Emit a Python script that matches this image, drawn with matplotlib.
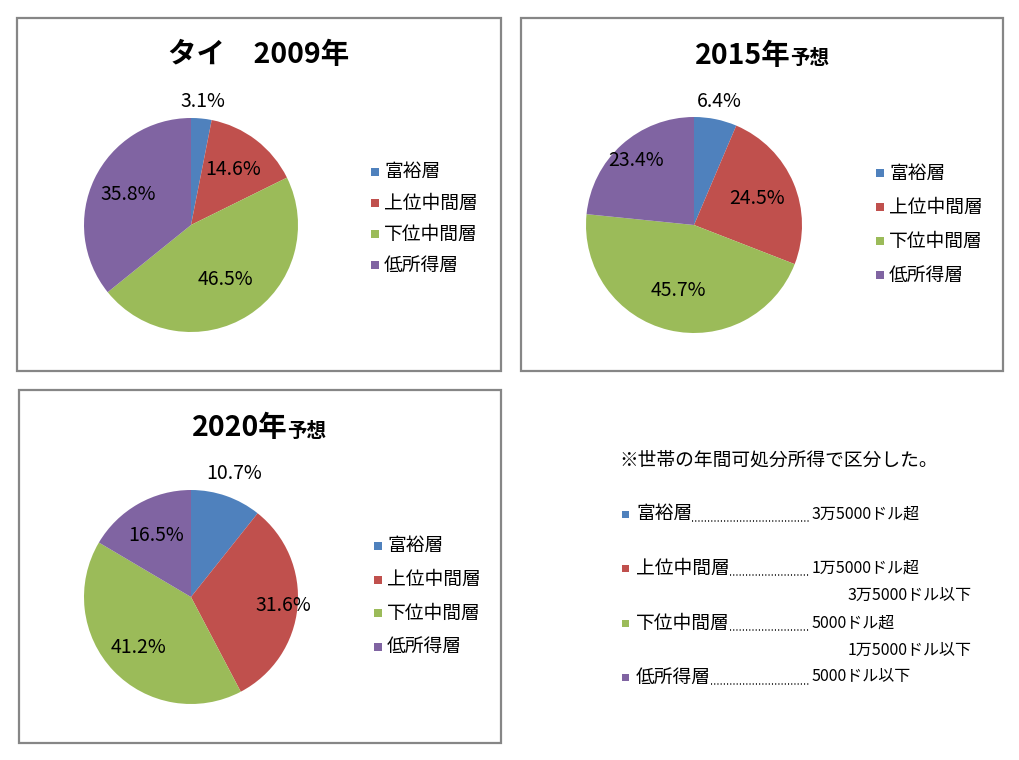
import matplotlib
matplotlib.use("Agg")
import matplotlib.pyplot as plt
import matplotlib.patches as mpatches
import numpy as np

plt.rcParams['font.family'] = ['Noto Sans CJK JP', 'DejaVu Sans']

# data
categories = ["富裕層", "上位中間層", "下位中間層", "低所得層"]
titles = ["タイ　2009年", "2015年", "2020年"]
title_suffix = ["", "予想", "予想"]
share_2009 = [3.1, 14.6, 46.5, 35.8]
share_2015 = [6.4, 24.5, 45.7, 23.4]
share_2020 = [10.7, 31.6, 41.2, 16.5]
note = "※世帯の年間可処分所得で区分した。"
thresholds = [["3万5000ドル超"],
              ["1万5000ドル超", "3万5000ドル以下"],
              ["5000ドル超", "1万5000ドル以下"],
              ["5000ドル以下"]]

colors = ["#4F81BD", "#C0504D", "#9BBB59", "#8064A2"]

W, H = 1020, 760
fig = plt.figure(figsize=(W / 100, H / 100), dpi=100)
renderer = fig.canvas.get_renderer()


def fx(x):
    return x / W


def fy(y):
    return 1 - y / H


# chart boxes (left, top, right, bottom in px)
boxes = [(17, 18, 501, 371), (521, 18, 1003, 371), (19, 390, 501, 743)]
for l, t, r, b in boxes:
    fig.patches.append(mpatches.Rectangle((fx(l), fy(b)), fx(r - l), (b - t) / H,
                                          transform=fig.transFigure, fill=False,
                                          edgecolor="#868686", linewidth=1.6))

charts = [
    dict(vals=share_2009, c=(191, 225), r=107, dist=[1.16, 0.65, 0.6, 0.65],
         title=(259, 55), leg=(375, 172, 31)),
    dict(vals=share_2015, c=(694, 225), r=108, dist=[1.17, 0.63, 0.62, 0.8],
         title=(762, 56), leg=(880, 173, 34)),
    dict(vals=share_2020, c=(191, 597), r=107, dist=[1.22, 0.87, 0.68, 0.66],
         title=(259, 428), leg=(378, 546, 33.5)),
]

for i, ch in enumerate(charts):
    cx, cy = ch["c"]
    r = ch["r"]
    ax = fig.add_axes([fx(cx - r), fy(cy + r), fx(2 * r), 2 * r / H])
    wedges, _ = ax.pie(ch["vals"], colors=colors, startangle=90, counterclock=False,
                       radius=1)
    ax.set_xlim(-1, 1)
    ax.set_ylim(-1, 1)
    ax.set_aspect("equal")
    ax.axis("off")
    for w, v, d in zip(wedges, ch["vals"], ch["dist"]):
        ang = np.deg2rad((w.theta1 + w.theta2) / 2)
        ax.text(d * np.cos(ang), d * np.sin(ang), f"{v}%", ha="center", va="center",
                fontsize=14, color="black", clip_on=False)

    # title
    tx, ty = ch["title"]
    t1 = fig.text(fx(tx), fy(ty), titles[i], ha="left", va="center",
                  fontsize=20.5, fontweight="bold")
    w1 = t1.get_window_extent(renderer=renderer).width
    total = w1
    t2 = None
    if title_suffix[i]:
        t2 = fig.text(0, fy(ty + 3), title_suffix[i], ha="left", va="center",
                      fontsize=14, fontweight="bold")
        total += t2.get_window_extent(renderer=renderer).width
    x0 = tx - total / 2
    t1.set_x(fx(x0))
    if t2 is not None:
        t2.set_x(fx(x0 + w1))

    # legend
    lx, ly, step = ch["leg"]
    for k, name in enumerate(categories):
        yy = ly + k * step
        fig.patches.append(mpatches.Rectangle((fx(lx - 4), fy(yy + 4)), fx(8), 8 / H,
                                              transform=fig.transFigure,
                                              facecolor=colors[k], edgecolor="none"))
        fig.text(fx(lx + 9), fy(yy), name, ha="left", va="center", fontsize=13.5)

# note block
fig.text(fx(619), fy(460), note, ha="left", va="center", fontsize=13.5)
row_y = [514, 568, 623, 677]
for k, name in enumerate(categories):
    yy = row_y[k]
    fig.patches.append(mpatches.Rectangle((fx(622), fy(yy + 4)), fx(7), 7 / H,
                                          transform=fig.transFigure,
                                          facecolor=colors[k], edgecolor="none"))
    t = fig.text(fx(636), fy(yy), name, ha="left", va="center", fontsize=13.5)
    bb = t.get_window_extent(renderer=renderer)
    fig.lines.append(plt.Line2D([bb.x1 / W, fx(809)], [fy(yy + 7), fy(yy + 7)],
                                transform=fig.transFigure, color="black",
                                linewidth=1.1, linestyle=(0, (0.7, 1.4))))
    for j, txt in enumerate(thresholds[k]):
        x0 = 812 if j == 0 else 848
        fig.text(fx(x0), fy(yy + j * 27), txt, ha="left", va="center", fontsize=11.5)

fig.savefig("out.png", dpi=100)
